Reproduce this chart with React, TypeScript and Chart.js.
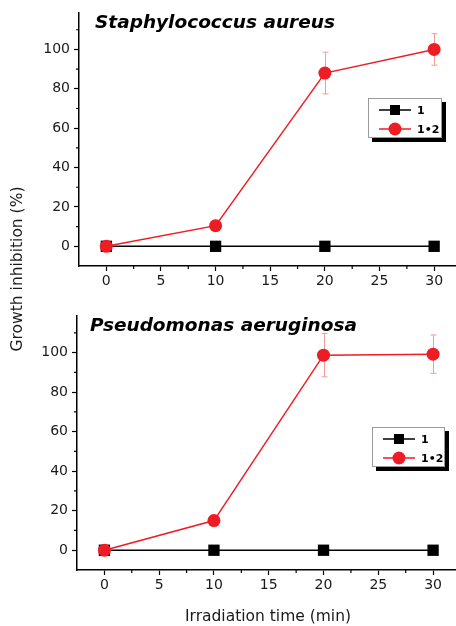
import React, { useEffect, useRef } from 'react';
import { Chart, registerables } from 'chart.js';

Chart.register(...registerables);

// ---- data ----
const TIME = [0, 10, 20, 30];
const SERIES_LABELS = ['1', '1•2'];

const SA_COMPOUND1 = [0, 0, 0, 0];
const SA_COMPLEX12 = [0, 10.5, 88, 100];
const SA_COMPLEX12_ERR = [0, 0, 10.6, 8];

const PA_COMPOUND1 = [0, 0, 0, 0];
const PA_COMPLEX12 = [0, 15, 98.7, 99.2];
const PA_COMPLEX12_ERR = [0, 0, 11, 9.7];

const X_TICKS = [0, 5, 10, 15, 20, 25, 30];
const X_MINOR_TICKS = [2.5, 7.5, 12.5, 17.5, 22.5, 27.5];
const Y_TICKS = [0, 20, 40, 60, 80, 100];
const Y_MINOR_TICKS = [10, 30, 50, 70, 90, 110];

const TITLE_SA = 'Staphylococcus aureus';
const TITLE_PA = 'Pseudomonas aeruginosa';
const Y_TITLE = 'Growth inhibition (%)';
const X_TITLE = 'Irradiation time (min)';

const W = 456;
const H = 626;
const FONT = "'DejaVu Sans', Verdana, sans-serif";
const RED = '#ee1c24';
const ERR_COLOR = '#f49a9a';

type Panel = {
  title: string;
  compound1: number[];
  complex12: number[];
  err: number[];
  area: { left: number; top: number; right: number; bottom: number };
  titlePos: { x: number; y: number };
  legendBox: { x: number; y: number; w: number; h: number };
  yTitle: boolean;
  xTitle: boolean;
};

const PANELS: Panel[] = [
  {
    title: TITLE_SA,
    compound1: SA_COMPOUND1,
    complex12: SA_COMPLEX12,
    err: SA_COMPLEX12_ERR,
    area: { left: 79, top: 13, right: 456, bottom: 266 },
    titlePos: { x: 95, y: 23 },
    legendBox: { x: 368, y: 98, w: 74, h: 40 },
    yTitle: true,
    xTitle: false,
  },
  {
    title: TITLE_PA,
    compound1: PA_COMPOUND1,
    complex12: PA_COMPLEX12,
    err: PA_COMPLEX12_ERR,
    area: { left: 77, top: 316, right: 455, bottom: 570 },
    titlePos: { x: 90, y: 326 },
    legendBox: { x: 372, y: 427, w: 73, h: 40 },
    yTitle: false,
    xTitle: true,
  },
];

const X_SCALE_H = 30;

const decorPlugin = {
  id: 'decor',
  beforeDatasetsDraw(chart: any, _args: any, opts: any) {
    const ctx = chart.ctx;
    const xs = chart.scales.x;
    const ys = chart.scales.y;
    ctx.save();
    ctx.strokeStyle = ERR_COLOR;
    ctx.lineWidth = 1;
    opts.err.forEach((e: number, i: number) => {
      if (!e) return;
      const x = Math.round(xs.getPixelForValue(TIME[i])) + 0.5;
      const v = opts.values[i];
      const yT = ys.getPixelForValue(v + e);
      const yB = ys.getPixelForValue(v - e);
      ctx.beginPath();
      ctx.moveTo(x, yT);
      ctx.lineTo(x, yB);
      ctx.moveTo(x - 3, yT);
      ctx.lineTo(x + 3, yT);
      ctx.moveTo(x - 3, yB);
      ctx.lineTo(x + 3, yB);
      ctx.stroke();
    });
    ctx.restore();
  },
  afterDraw(chart: any, _args: any, opts: any) {
    const ctx = chart.ctx;
    const xs = chart.scales.x;
    const ys = chart.scales.y;
    const ca = chart.chartArea;
    ctx.save();
    // minor ticks
    ctx.strokeStyle = '#000';
    ctx.lineWidth = 1.2;
    ctx.beginPath();
    X_MINOR_TICKS.forEach((v) => {
      const x = xs.getPixelForValue(v);
      ctx.moveTo(x, ca.bottom);
      ctx.lineTo(x, ca.bottom + 3);
    });
    Y_MINOR_TICKS.forEach((v) => {
      const y = ys.getPixelForValue(v);
      ctx.moveTo(ca.left, y);
      ctx.lineTo(ca.left - 3, y);
    });
    ctx.stroke();

    // panel title
    ctx.fillStyle = '#000';
    ctx.font = `italic bold 18.5px ${FONT}`;
    ctx.textAlign = 'left';
    ctx.textBaseline = 'middle';
    ctx.fillText(opts.title, opts.titlePos.x, opts.titlePos.y);

    // legend
    const lb = opts.legendBox;
    ctx.fillStyle = '#000';
    ctx.fillRect(lb.x + 4, lb.y + 4, lb.w, lb.h);
    ctx.fillStyle = '#fff';
    ctx.fillRect(lb.x, lb.y, lb.w, lb.h);
    ctx.strokeStyle = '#9a9a9a';
    ctx.lineWidth = 1;
    ctx.strokeRect(lb.x + 0.5, lb.y + 0.5, lb.w - 1, lb.h - 1);
    chart.data.datasets.forEach((ds: any, i: number) => {
      const ry = lb.y + 12 + i * 19;
      ctx.strokeStyle = ds.borderColor;
      ctx.lineWidth = 1.5;
      ctx.beginPath();
      ctx.moveTo(lb.x + 11, ry);
      ctx.lineTo(lb.x + 43, ry);
      ctx.stroke();
      ctx.fillStyle = ds.pointBackgroundColor;
      const mx = lb.x + 27;
      if (ds.pointStyle === 'rect') {
        ctx.fillRect(mx - 5, ry - 5, 10, 10);
      } else {
        ctx.beginPath();
        ctx.arc(mx, ry, 6.5, 0, Math.PI * 2);
        ctx.fill();
      }
      ctx.fillStyle = '#000';
      ctx.font = `bold 11px ${FONT}`;
      ctx.textAlign = 'left';
      ctx.textBaseline = 'middle';
      ctx.fillText(ds.label, lb.x + 49, ry + 1);
    });

    // axis titles
    ctx.fillStyle = '#1a1a1a';
    ctx.font = `15.5px ${FONT}`;
    ctx.textAlign = 'center';
    ctx.textBaseline = 'middle';
    if (opts.yTitle) {
      ctx.save();
      ctx.translate(18, 269);
      ctx.rotate(-Math.PI / 2);
      ctx.fillText(Y_TITLE, 0, 0);
      ctx.restore();
    }
    if (opts.xTitle) {
      ctx.fillText(X_TITLE, 268, 617);
    }
    ctx.restore();
  },
};

function buildConfig(p: Panel): any {
  const toPts = (arr: number[]) => TIME.map((t, i) => ({ x: t, y: arr[i] }));
  return {
    type: 'line',
    data: {
      datasets: [
        {
          label: SERIES_LABELS[0],
          data: toPts(p.compound1),
          borderColor: '#000',
          backgroundColor: '#000',
          pointBackgroundColor: '#000',
          pointBorderColor: '#000',
          pointStyle: 'rect',
          pointRadius: 8,
          pointBorderWidth: 0,
          borderWidth: 1.5,
          order: 1,
          clip: false,
        },
        {
          label: SERIES_LABELS[1],
          data: toPts(p.complex12),
          borderColor: RED,
          backgroundColor: RED,
          pointBackgroundColor: RED,
          pointBorderColor: RED,
          pointStyle: 'circle',
          pointRadius: 6.5,
          pointBorderWidth: 0,
          borderWidth: 1.5,
          order: 0,
          clip: false,
        },
      ],
    },
    options: {
      animation: false,
      responsive: false,
      devicePixelRatio: 1,
      events: [],
      layout: {
        autoPadding: false,
        padding: {
          left: 0,
          top: p.area.top,
          right: W - p.area.right,
          bottom: H - p.area.bottom - X_SCALE_H,
        },
      },
      plugins: {
        legend: { display: false },
        tooltip: { enabled: false },
        decor: {
          title: p.title,
          titlePos: p.titlePos,
          legendBox: p.legendBox,
          values: p.complex12,
          err: p.err,
          yTitle: p.yTitle,
          xTitle: p.xTitle,
        },
      },
      scales: {
        x: {
          type: 'linear',
          min: -2.5,
          max: 32,
          afterBuildTicks: (s: any) => {
            s.ticks = X_TICKS.map((v) => ({ value: v }));
          },
          afterFit: (s: any) => {
            s.height = X_SCALE_H;
            s.paddingLeft = 0;
            s.paddingRight = 0;
          },
          border: { display: true, color: '#000', width: 1.5 },
          grid: {
            display: true,
            drawOnChartArea: false,
            drawTicks: true,
            tickLength: 5,
            tickColor: '#000',
            tickWidth: 1.2,
          },
          ticks: {
            color: '#1a1a1a',
            font: { family: FONT, size: 14 },
            padding: 2,
            maxRotation: 0,
            autoSkip: false,
          },
        },
        y: {
          type: 'linear',
          min: -10,
          max: 118.5,
          afterBuildTicks: (s: any) => {
            s.ticks = Y_TICKS.map((v) => ({ value: v }));
          },
          afterFit: (s: any) => {
            s.width = p.area.left;
            s.paddingTop = 0;
            s.paddingBottom = 0;
          },
          border: { display: true, color: '#000', width: 1.5 },
          grid: {
            display: true,
            drawOnChartArea: false,
            drawTicks: true,
            tickLength: 5,
            tickColor: '#000',
            tickWidth: 1.2,
          },
          ticks: {
            color: '#1a1a1a',
            font: { family: FONT, size: 14 },
            padding: 4,
            autoSkip: false,
          },
        },
      },
    },
    plugins: [decorPlugin],
  };
}

function PanelChart({ panel }: { panel: Panel }) {
  const ref = useRef<HTMLCanvasElement | null>(null);
  useEffect(() => {
    if (!ref.current) return;
    const chart = new Chart(ref.current, buildConfig(panel));
    return () => chart.destroy();
  }, [panel]);
  return (
    <canvas
      ref={ref}
      width={W}
      height={H}
      style={{ position: 'absolute', left: 0, top: 0, width: W, height: H }}
    />
  );
}

export default function App() {
  return (
    <div
      style={{
        position: 'absolute',
        left: 0,
        top: 0,
        width: W,
        height: H,
        background: '#fff',
        overflow: 'hidden',
      }}
    >
      {PANELS.map((p, i) => (
        <PanelChart key={i} panel={p} />
      ))}
    </div>
  );
}
